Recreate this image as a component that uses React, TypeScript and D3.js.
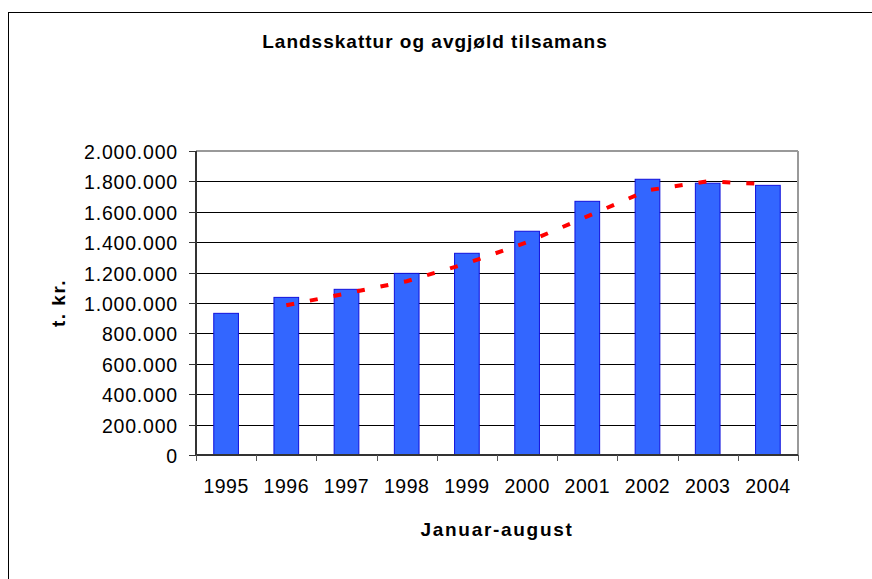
import React from 'react';
import { scaleBand, scaleLinear, line, formatLocale } from 'd3';

const years = ['1995', '1996', '1997', '1998', '1999', '2000', '2001', '2002', '2003', '2004'];
const totals = [932000, 1037000, 1090000, 1195000, 1327000, 1472000, 1669000, 1814000, 1788000, 1774000];

// trend (2 period moving avg in the original)
const trendYears = ['1996', '1997', '1998', '1999', '2000', '2001', '2002', '2003', '2004'];
const trendValues = [985000, 1063000, 1143000, 1261000, 1400000, 1570000, 1741000, 1801000, 1781000];

const yTicks = [0, 200000, 400000, 600000, 800000, 1000000, 1200000, 1400000, 1600000, 1800000, 2000000];

const fmt = formatLocale({ decimal: ',', thousands: '.', grouping: [3], currency: ['', ''] }).format(',d');

const FONT = "Arial, 'Liberation Sans', sans-serif";

export default function App() {
  const width = 872;
  const height = 579;
  const plot = { left: 196, right: 798, top: 151, bottom: 455 };

  const x = scaleBand().domain(years).range([plot.left, plot.right]).padding(0);
  const y = scaleLinear().domain([0, 2000000]).range([plot.bottom, plot.top]);
  const bw = x.bandwidth();
  const barW = bw * 0.41;

  const trendPath = line<number>()
    .x((_, i) => (x(trendYears[i]) as number) + bw / 2)
    .y(d => y(d))(trendValues);

  const cx = (plot.left + plot.right) / 2;

  return (
    <svg width={width} height={height} style={{ position: 'absolute', left: 0, top: 0, background: '#fff' }}>
      {/* chart frame */}
      <rect x={8.5} y={12.5} width={900} height={700} fill="#fff" stroke="#000" strokeWidth={1} />

      <text x={435} y={48} textAnchor="middle" fontFamily={FONT} fontWeight="bold" fontSize={19} letterSpacing={1}>
        Landsskattur og avgjøld tilsamans
      </text>

      {/* gridlines */}
      {yTicks.slice(1, -1).map(t => (
        <line key={t} x1={plot.left} x2={plot.right} y1={Math.round(y(t)) + 0.5} y2={Math.round(y(t)) + 0.5} stroke="#000" strokeWidth={1} />
      ))}

      {/* plot area border top/right */}
      <line x1={plot.left} x2={plot.right} y1={plot.top} y2={plot.top} stroke="#999" strokeWidth={2} />
      <line x1={plot.right} x2={plot.right} y1={plot.top} y2={plot.bottom} stroke="#999" strokeWidth={2} />

      {/* bars */}
      {years.map((yr, i) => (
        <rect
          key={yr}
          x={(x(yr) as number) + (bw - barW) / 2}
          y={y(totals[i])}
          width={barW}
          height={plot.bottom - y(totals[i])}
          fill="#3366FF"
          stroke="#1010DD"
          strokeWidth={1}
        />
      ))}

      {/* trend */}
      <path d={trendPath || ''} fill="none" stroke="#FF0000" strokeWidth={4} strokeDasharray="8 16" />

      {/* y axis */}
      <line x1={plot.left} x2={plot.left} y1={plot.top} y2={plot.bottom} stroke="#333" strokeWidth={2} />
      {yTicks.map(t => (
        <g key={t} transform={`translate(0, ${Math.round(y(t)) + 0.5})`}>
          <line x1={plot.left - 7} x2={plot.left} stroke="#333" strokeWidth={1} />
          <text x={178} dy="0.36em" textAnchor="end" fontFamily={FONT} fontSize={19.5} letterSpacing={0.8}>
            {fmt(t)}
          </text>
        </g>
      ))}
      <text transform={`translate(65, ${(plot.top + plot.bottom) / 2}) rotate(-90)`} textAnchor="middle" fontFamily={FONT} fontWeight="bold" fontSize={19} letterSpacing={1.5}>
        t. kr.
      </text>

      {/* x axis */}
      <line x1={plot.left} x2={plot.right} y1={plot.bottom} y2={plot.bottom} stroke="#333" strokeWidth={2} />
      {[...years.map(yr => x(yr) as number), plot.right].map((px, i) => (
        <line key={i} x1={Math.round(px) + 0.5} x2={Math.round(px) + 0.5} y1={plot.bottom} y2={plot.bottom + 6} stroke="#555" strokeWidth={1} />
      ))}
      {years.map(yr => (
        <text key={yr} x={(x(yr) as number) + bw / 2} y={493} textAnchor="middle" fontFamily={FONT} fontSize={19.5} letterSpacing={0.5}>
          {yr}
        </text>
      ))}
      <text x={cx} y={536} textAnchor="middle" fontFamily={FONT} fontWeight="bold" fontSize={19} letterSpacing={1.7}>
        Januar-august
      </text>
    </svg>
  );
}
